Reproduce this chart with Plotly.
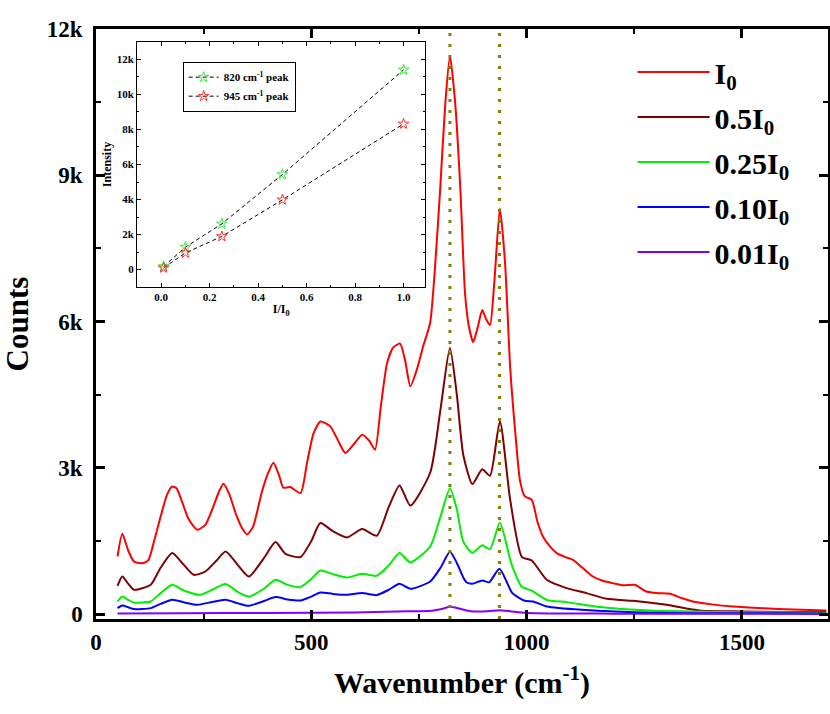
import plotly.graph_objects as go

# ---------------- main spectra ----------------
wn_red = [50, 61, 75, 88, 96, 110, 122, 135, 150, 165, 177, 187, 200, 215, 235, 254, 270, 285, 296, 310, 325, 340, 351,
          365, 385, 400, 412, 425, 435, 451, 475, 490, 505, 521, 544, 560, 579, 600, 618, 635, 648, 662, 676, 690, 706,
          718, 730, 745, 760, 776, 788, 799, 811, 822, 834, 846, 857, 866, 876, 887, 897, 906, 915, 925, 938, 950, 962,
          975, 985, 996, 1012, 1025, 1038, 1055, 1070, 1090, 1108, 1130, 1154, 1175, 1200, 1225, 1251, 1278, 1305, 1333,
          1360, 1386, 1430, 1479, 1550, 1620, 1696]
cnt_red = [1182, 1648, 1300, 1080, 1053, 1050, 1114, 1500, 2000, 2450, 2618, 2580, 2300, 1950, 1730, 1832, 2150, 2500,
           2674, 2450, 2050, 1750, 1634, 1800, 2500, 2900, 3105, 2850, 2592, 2606, 2483, 3100, 3700, 3952, 3850, 3600,
           3304, 3500, 3679, 3550, 3371, 4300, 5150, 5465, 5547, 5200, 4670, 5013, 5500, 5971, 7200, 8670, 10445, 11450,
           10500, 8748, 6583, 5900, 5579, 5900, 6236, 6050, 5928, 6800, 8321, 7200, 5040, 3600, 2723, 2413, 2345, 1900,
           1592, 1380, 1252, 1170, 1114, 950, 772, 690, 636, 590, 601, 464, 430, 417, 330, 259, 200, 156, 120, 95, 74]

wn_brown = [50, 61, 75, 88, 127, 150, 177, 200, 227, 254, 280, 301, 330, 355, 390, 417, 440, 475, 500, 521, 550, 583,
            618, 652, 680, 705, 730, 776, 800, 822, 838, 853, 874, 897, 915, 938, 962, 989, 1012, 1047, 1093, 1139,
            1186, 1247, 1325, 1402, 1500, 1600, 1696]
cnt_brown = [581, 772, 620, 499, 601, 950, 1252, 1050, 806, 874, 1100, 1285, 1000, 772, 1150, 1477, 1237, 1170, 1500,
             1867, 1700, 1572, 1744, 1607, 2200, 2639, 2228, 2899, 4200, 5465, 4500, 3263, 2668, 2969, 2838, 3958, 2337,
             1176, 1100, 704, 534, 431, 314, 273, 191, 74, 55, 45, 41]

wn_green = [50, 61, 75, 88, 127, 150, 177, 205, 243, 275, 301, 330, 355, 390, 417, 445, 475, 500, 521, 550, 583, 618,
            652, 680, 705, 730, 776, 800, 822, 838, 853, 874, 897, 915, 938, 965, 989, 1012, 1047, 1093, 1170, 1286,
            1500, 1696]
cnt_green = [259, 361, 290, 238, 259, 430, 601, 480, 396, 520, 616, 450, 361, 520, 704, 600, 554, 720, 895, 820, 751,
             827, 786, 1000, 1252, 1059, 1387, 2000, 2583, 2150, 1486, 1256, 1410, 1332, 1873, 1024, 560, 482, 289, 246,
             144, 74, 40, 30]

wn_blue = [50, 61, 75, 88, 127, 150, 177, 205, 235, 270, 301, 330, 355, 390, 417, 445, 475, 500, 521, 550, 583, 618,
           652, 680, 705, 730, 776, 800, 822, 838, 853, 861, 874, 897, 913, 937, 967, 996, 1015, 1047, 1128, 1300, 1696]
cnt_blue = [123, 176, 140, 103, 123, 210, 293, 240, 191, 250, 293, 220, 170, 270, 349, 300, 279, 360, 443, 415, 396,
            431, 390, 500, 622, 519, 669, 950, 1278, 1050, 753, 648, 622, 692, 652, 930, 431, 273, 259, 156, 88, 27, 15]

wn_purple = [50, 200, 400, 600, 700, 780, 805, 822, 845, 870, 910, 937, 965, 1000, 1200, 1696]
cnt_purple = [15, 20, 25, 35, 55, 70, 110, 150, 110, 60, 60, 80, 55, 25, 10, 5]

series_labels = ["I<sub>0</sub>", "0.5I<sub>0</sub>", "0.25I<sub>0</sub>", "0.10I<sub>0</sub>", "0.01I<sub>0</sub>"]
series_colors = ["#ff0000", "#7f0000", "#00ee00", "#0000ff", "#8000ff"]

peak_positions = [822, 937]

# ---------------- inset data ----------------
ratio = [0.01, 0.1, 0.25, 0.5, 1.0]
peak820 = [170, 1280, 2610, 5430, 11410]
peak945 = [95, 950, 1890, 3980, 8320]
inset_labels = ["820 cm<sup>-1</sup> peak", "945 cm<sup>-1</sup> peak"]
inset_colors = ["#33ee33", "#ff3333"]

x_ticks = [0, 500, 1000, 1500]
y_ticks = [0, 3000, 6000, 9000, 12000]
y_ticktext = ["0", "3k", "6k", "9k", "12k"]
ix_ticks = [0, 0.2, 0.4, 0.6, 0.8, 1.0]
ix_ticktext = ["0.0", "0.2", "0.4", "0.6", "0.8", "1.0"]
iy_ticks = [0, 2000, 4000, 6000, 8000, 10000, 12000]
iy_ticktext = ["0", "2k", "4k", "6k", "8k", "10k", "12k"]

FONT = "'Liberation Serif', 'Times New Roman', Times, serif"

fig = go.Figure()
data = [(wn_red, cnt_red), (wn_brown, cnt_brown), (wn_green, cnt_green), (wn_blue, cnt_blue), (wn_purple, cnt_purple)]
for (xs, ys), lab, col in zip(data, series_labels, series_colors):
    fig.add_trace(go.Scatter(x=xs, y=ys, mode="lines", name=lab, legendgroup=lab,
                             line=dict(color=col, width=2, shape="spline", smoothing=0.6),
                             xaxis="x", yaxis="y", legend="legend"))

for xs_y, lab, col in zip([peak820, peak945], inset_labels, inset_colors):
    fig.add_trace(go.Scatter(x=ratio, y=xs_y, mode="lines+markers", name=lab,
                             line=dict(color="black", width=1, dash="4px,3px"),
                             marker=dict(symbol="star-open", size=8, color=col, line=dict(width=1, color=col)),
                             xaxis="x2", yaxis="y2", legend="legend2"))

for p in peak_positions:
    fig.add_shape(type="line", xref="x", yref="paper", x0=p, x1=p, y0=0, y1=1,
                  line=dict(color="#808000", width=3, dash="3px,8px"))

axis_common = dict(showline=True, linecolor="black", mirror="ticks", ticks="inside", showgrid=False,
                   zeroline=False, tickcolor="black", automargin=False)

fig.update_layout(
    width=830, height=714,
    margin=dict(l=96, r=2, t=29, b=95),
    paper_bgcolor="white", plot_bgcolor="white",
    font=dict(family=FONT, color="black"),
    xaxis=dict(**axis_common, range=[0, 1700], tickvals=x_ticks, linewidth=2.5, tickwidth=2.5, ticklen=9,
               minor=dict(dtick=250, ticks="inside", ticklen=5, tickwidth=2, tickcolor="black"),
               tickfont=dict(size=23, weight="bold", family=FONT), ticklabelstandoff=1,
               title=dict(text="Wavenumber (cm<sup>-1</sup>)", font=dict(size=30, weight="bold", family=FONT),
                          standoff=18)),
    yaxis=dict(**axis_common, range=[-100, 12000], tickvals=y_ticks, ticktext=y_ticktext, linewidth=2.5,
               tickwidth=2.5, ticklen=9,
               minor=dict(dtick=1500, tick0=0, ticks="inside", ticklen=5, tickwidth=2, tickcolor="black"),
               tickfont=dict(size=23, weight="bold", family=FONT), ticklabelstandoff=6,
               title=dict(text="Counts", font=dict(size=31, weight="bold", family=FONT), standoff=13)),
    xaxis2=dict(**axis_common, domain=[0.056, 0.450], anchor="y2", range=[-0.1, 1.09], tickvals=ix_ticks,
                ticktext=ix_ticktext, linewidth=1, tickwidth=1, ticklen=4,
                minor=dict(dtick=0.1, tick0=0, ticks="inside", ticklen=2, tickwidth=1, tickcolor="black"),
                tickfont=dict(size=11, weight="bold", family=FONT),
                title=dict(text="I/I<sub>0</sub>", font=dict(size=12, weight="bold", family=FONT), standoff=2)),
    yaxis2=dict(**axis_common, domain=[0.5627, 0.978], anchor="x2", range=[-1000, 13000], tickvals=iy_ticks,
                ticktext=iy_ticktext, linewidth=1, tickwidth=1, ticklen=4,
                minor=dict(dtick=1000, tick0=0, ticks="inside", ticklen=2, tickwidth=1, tickcolor="black"),
                tickfont=dict(size=11, weight="bold", family=FONT),
                title=dict(text="Intensity", font=dict(size=12, weight="bold", family=FONT), standoff=2)),
    legend=dict(x=0.733, y=0.971, xanchor="left", yanchor="top", bgcolor="rgba(0,0,0,0)", borderwidth=0,
                font=dict(size=30, weight="bold", family=FONT), itemwidth=72, tracegroupgap=3),
    legend2=dict(x=0.1184, y=0.9446, xanchor="left", yanchor="top", bgcolor="white", bordercolor="black",
                 borderwidth=1, font=dict(size=11, weight="bold", family=FONT), itemwidth=30, tracegroupgap=0),
    showlegend=True,
)

fig.write_html("out.html", config={"displayModeBar": False},
               post_script="document.body.style.margin='0px';document.body.style.padding='0px';")
